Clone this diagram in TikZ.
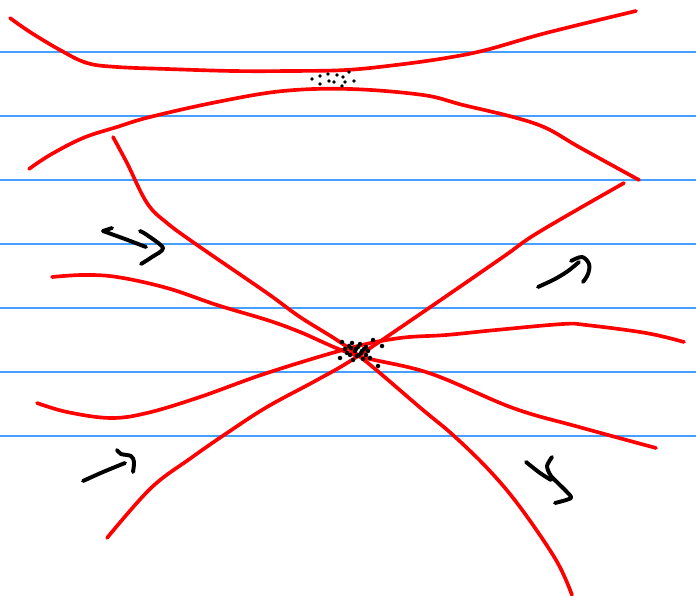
\documentclass[tikz,border=0pt]{standalone}
\usetikzlibrary{positioning}
\definecolor{ruleblue}{RGB}{70,160,255}

\begin{document}
\begin{tikzpicture}[x=0.025cm,y=-0.025cm]
\tikzstyle{rule}=[line width=1pt, color=ruleblue]
\tikzstyle{curve}=[line width=2.6pt, red, line cap=round, line join=round]
\tikzstyle{pen}=[line width=2.8pt, black, line cap=round, line join=round]
\useasboundingbox (0,0) rectangle (696,596);
\fill[white] (0,0) rectangle (696,596);
% ruled paper
\foreach \y in {52,116,...,436} \draw[rule] (0,\y) -- (696,\y);
% top pair
\draw[curve] plot[smooth, tension=0.6] coordinates {(10,18) (30,32) (60,50) (87,63) (117,67) (167,69) (233,71) (290,71) (346,70) (396,65) (446,58) (486,50) (546,33) (636,11)};
\draw[curve] plot[smooth, tension=0.6] coordinates {(29,169) (50,155) (83,138) (117,127) (150,117) (217,102) (283,91) (350,89) (423,95) (463,105) (513,117) (546,128) (579,147) (639,180)};
% crossing lines
\draw[curve] plot[smooth, tension=0.6] coordinates {(113,137) (127,163) (147,203) (167,223) (200,247) (267,293) (300,317) (354,352) (423,410) (453,435) (489,470) (520,507) (556,560) (572,595)};
\draw[curve] plot[smooth, tension=0.6] coordinates {(52,277) (83,275) (117,277) (167,288) (217,305) (267,320) (300,332) (355,355) (429,373) (513,408) (579,427) (656,448)};
\draw[curve] plot[smooth, tension=0.6] coordinates {(37,403) (67,412) (110,418) (147,413) (200,397) (267,373) (350,348) (400,338) (446,335) (496,330) (563,324) (586,325) (646,333) (684,342)};
\draw[curve] plot[smooth, tension=0.6] coordinates {(107,538) (151,488) (191,458) (227,433) (267,407) (317,380) (355,358) (429,308) (503,257) (539,232) (624,183)};
% dots
\foreach \p in {(312,79),(320,76),(320,84),(328,74),(329,81),(334,82),(337,75),(343,77),(345,82),(349,72),(354,81),(342,86)}
  \fill \p circle (1.4pt);
\foreach \p in {(342,342),(352,343),(373,340),(382,346),(340,358),(347,353),(351,348),(355,351),(358,347),(361,353),(364,349),(366,355),(357,356),(353,360),(370,358),(378,366),(349,346),(360,344),(368,351),(345,349),(363,359),(356,349),(359,355),(362,351),(350,355),(366,347)}
  \fill \p circle (1.6pt);
% arrows
\draw[pen] (112,228) -- (103,231) -- (125,239) -- (146,247);
\draw[pen] plot[smooth] coordinates {(140,231) (147,235) (163,248) (152,257) (141,264)};
\draw[pen] plot[smooth, tension=0.5] coordinates {(538,287) (555,279) (568,271) (579,262)};
\draw[pen] plot[smooth, tension=0.6] coordinates {(571,261) (582,257) (589,264) (588,274) (583,282)};
\draw[pen] plot[smooth] coordinates {(83,481) (103,472) (125,463)};
\draw[pen] plot[smooth] coordinates {(117,450) (121,454) (131,456) (134,462) (133,472)};
\draw[pen] plot[smooth] coordinates {(526,462) (540,473) (551,480)};
\draw[pen] plot[smooth, tension=0.4] coordinates {(552,457) (547,466) (551,476) (565,490) (571,498) (555,503)};
\end{tikzpicture}
\end{document}
